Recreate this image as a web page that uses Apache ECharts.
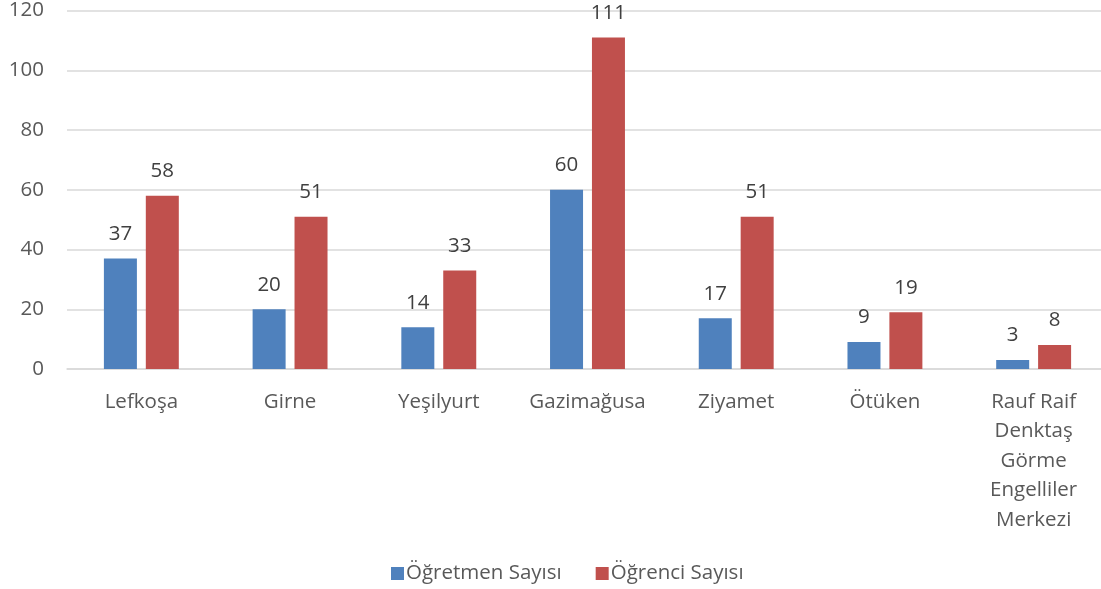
<!DOCTYPE html>
<html>
<head>
<meta charset="utf-8">
<script src="https://cdn.jsdelivr.net/npm/echarts@6/dist/echarts.min.js"></script>
<style>
html, body { margin: 0; padding: 0; background: #fff; overflow: hidden; }
/* the source chart is cropped on the right, so the canvas is a bit wider than the window */
#chart { width: 1108px; height: 589px; }
</style>
</head>
<body>
<div id="chart"></div>
<script>
const categories = ["Lefkoşa", "Girne", "Yeşilyurt", "Gazimağusa", "Ziyamet", "Ötüken", "Rauf Raif Denktaş Görme Engelliler Merkezi"];
const teachers = [37, 20, 14, 60, 17, 9, 3];
const students = [58, 51, 33, 111, 51, 19, 8];
const seriesNames = ["Öğretmen Sayısı", "Öğrenci Sayısı"];

const font = "'Open Sans', sans-serif";
const fs = 20.5;

// greedy wrap, roughly like the office chart does it
function wrap(text) {
	const words = text.split(" ");
	const lines = [];
	let cur = "";
	words.forEach(w => {
		if (cur && (cur + " " + w).length > 10) {
			lines.push(cur);
			cur = w;
		} else {
			cur = cur ? cur + " " + w : w;
		}
	});
	lines.push(cur);
	return lines.join("\n");
}

const chart = echarts.init(document.getElementById("chart"));

const labelStyle = {
	show: true,
	position: "top",
	distance: 14,
	fontSize: fs,
	fontFamily: font,
	color: "#404040"
};

const option = {
	animation: false,
	grid: {
		left: 67,
		top: 10,
		right: 0,
		bottom: 220
	},
	legend: {
		bottom: 0,
		left: 386,
		itemWidth: 13,
		itemHeight: 13,
		itemGap: 34,
		icon: "rect",
		textStyle: { fontSize: fs, fontFamily: font, color: "#595959", padding: [0, 0, 0, -3] },
		data: seriesNames
	},
	xAxis: {
		type: "category",
		data: categories,
		axisLine: { lineStyle: { color: "#d9d9d9", width: 1.5 } },
		axisTick: { show: false },
		axisLabel: {
			interval: 0,
			margin: 18,
			fontSize: fs,
			lineHeight: 29.5,
			fontFamily: font,
			color: "#595959",
			formatter: wrap
		}
	},
	yAxis: {
		type: "value",
		min: 0,
		max: 120,
		interval: 20,
		axisLine: { show: false },
		axisTick: { show: false },
		axisLabel: {
			margin: 23,
			fontSize: fs,
			fontFamily: font,
			color: "#595959"
		},
		splitLine: { lineStyle: { color: "#d9d9d9", width: 1.5 } }
	},
	series: [
		{
			name: seriesNames[0],
			type: "bar",
			data: teachers,
			barWidth: 33,
			barGap: "27%",
			itemStyle: { color: "#4f81bd" },
			label: labelStyle
		},
		{
			name: seriesNames[1],
			type: "bar",
			data: students,
			barWidth: 33,
			itemStyle: { color: "#c0504d" },
			label: labelStyle
		}
	]
};

chart.setOption(option);
</script>
</body>
</html>
